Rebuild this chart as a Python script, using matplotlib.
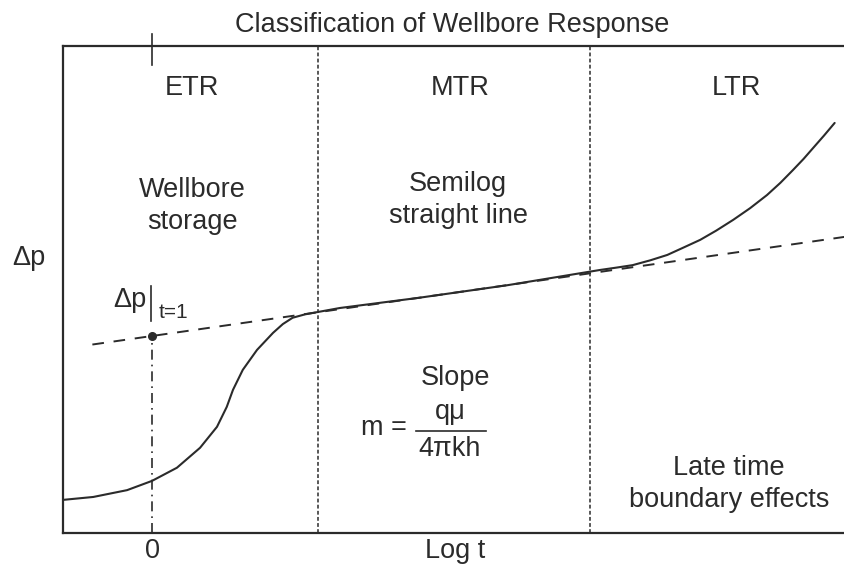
import matplotlib
matplotlib.use("Agg")
import matplotlib.pyplot as plt

# Drawdown curve read on a log-time axis (x = log t, y = delta p)
curve_x = [-1.0, -0.66, -0.28, 0.0, 0.28, 0.54, 0.73, 0.84, 0.91, 1.02, 1.18, 1.36,
           1.47, 1.58, 1.72, 1.87, 2.11, 3.0, 4.0, 5.03, 5.22, 5.40, 5.60, 5.79,
           5.97, 6.16, 6.34, 6.53, 6.72, 6.91, 7.06, 7.20, 7.32, 7.43, 7.55, 7.67]
curve_y = [0.68, 0.74, 0.88, 1.07, 1.34, 1.75, 2.18, 2.59, 2.94, 3.35, 3.76, 4.11,
           4.29, 4.42, 4.49, 4.54, 4.62, 4.83, 5.09, 5.40, 5.45, 5.50, 5.60, 5.71,
           5.86, 6.02, 6.21, 6.43, 6.67, 6.94, 7.19, 7.45, 7.68, 7.91, 8.16, 8.42]

# Semilog straight line extrapolated over the whole range
line_x = [-0.67, 7.78]
line_y = [3.87, 6.08]

# intercept at log t = 0
p_t1 = 4.05

# boundaries between early, middle and late time regions
bounds = [1.87, 4.92]

FONT = ["Liberation Sans", "DejaVu Sans"]
INK = "#2b2b2b"
FS = 19.5

fig = plt.figure(figsize=(8.44, 5.67), dpi=100)
ax = fig.add_axes([63 / 844, 34 / 567, 1 - 63 / 844, 487 / 567])
ax.set_xlim(-1, 7.775)
ax.set_ylim(0, 10)
ax.spines["right"].set_visible(False)
for s in ["left", "bottom", "top"]:
    ax.spines[s].set_color(INK)
    ax.spines[s].set_linewidth(1.6)
ax.set_xticks([])
ax.set_yticks([])


def px(x, y):
    # figure pixel -> data coordinates
    return (x - 152) / 89, (533 - y) / 48.7


ax.plot(curve_x, curve_y, color=INK, lw=1.5, solid_capstyle="round",
        solid_joinstyle="round")
ax.plot(line_x, line_y, color=INK, lw=1.4, dashes=(6, 5))
ax.plot([0], [p_t1], "o", color=INK, ms=5.5)
ax.plot([0, 0], [0, p_t1], color=INK, lw=1.2, dashes=(6, 3, 1, 3))
ax.plot([0, 0], [9.6, 10.25], color=INK, lw=1.2, clip_on=False)
for b in bounds:
    ax.plot([b, b], [0, 10], color=INK, lw=1.1, dashes=(2.5, 1.5))

kw = dict(family=FONT, color=INK, ha="center", va="center")
fig.text(452 / 844, 1 - 25 / 567, "Classification of Wellbore Response", fontsize=FS, **kw)

ax.text(*px(192, 88), "ETR", fontsize=FS, **kw)
ax.text(*px(460, 88), "MTR", fontsize=FS, **kw)
ax.text(*px(736, 88), "LTR", fontsize=FS, **kw)

ax.text(*px(192, 206), "Wellbore\nstorage", fontsize=FS, linespacing=1.3, **kw)
ax.text(*px(458, 200), "Semilog\nstraight line", fontsize=FS, linespacing=1.3, **kw)
ax.text(*px(455, 378), "Slope", fontsize=FS, **kw)
ax.text(*px(729, 484), "Late time\nboundary effects", fontsize=FS, linespacing=1.3, **kw)

# slope formula
ax.text(*px(384, 428), "m =", fontsize=FS, **kw)
ax.text(*px(450, 412), "q\u03bc", fontsize=FS, **kw)
x0, yb = px(416, 431)
x1, _ = px(486, 431)
ax.plot([x0, x1], [yb, yb], color=INK, lw=1.2)
ax.text(*px(450, 449), "4\u03c0kh", fontsize=FS, **kw)

# delta p at t = 1
ax.text(*px(130, 300), "\u0394p", fontsize=FS, **kw)
bx, by0 = px(151, 286)
_, by1 = px(151, 321)
ax.plot([bx, bx], [by0, by1], color=INK, lw=1.2)
ax.text(*px(173, 313), "t=1", fontsize=15, **kw)

# axis captions
fig.text(29 / 844, 1 - 258 / 567, "\u0394p", fontsize=FS, **kw)
fig.text(152 / 844, 1 - 551 / 567, "0", fontsize=FS, **kw)
fig.text(455 / 844, 1 - 551 / 567, "Log t", fontsize=FS, **kw)

fig.savefig("out.png", dpi=100)
